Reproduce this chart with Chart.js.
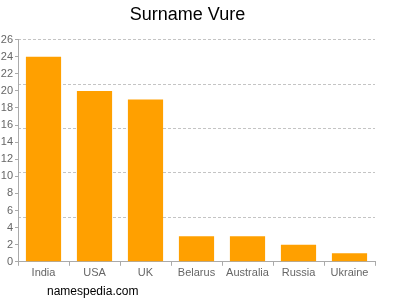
<!DOCTYPE html>
<html>
<head>
<meta charset="utf-8">
<script src="https://cdn.jsdelivr.net/npm/chart.js@4"></script>
<style>
  html, body { margin: 0; padding: 0; background: #fff; }
  #wrap { position: relative; width: 400px; height: 300px; }
  #credit { position: absolute; left: 47px; top: 284px; font: 12px "Liberation Sans", Arial, sans-serif; color: #000; }
</style>
</head>
<body>
<div id="wrap">
  <canvas id="chart" width="400" height="300"></canvas>
  <div id="credit">namespedia.com</div>
</div>
<script>
const countries = ['India', 'USA', 'UK', 'Belarus', 'Australia', 'Russia', 'Ukraine'];
const counts = [24, 20, 19, 3, 3, 2, 1];
const gridLevels = [0, 5.2, 10.4, 15.6, 20.8, 26];

const labelFont = { family: '"Liberation Sans", Arial, sans-serif', size: 11 };

new Chart(document.getElementById('chart'), {
  type: 'bar',
  data: {
    labels: countries,
    datasets: [{
      data: counts,
      backgroundColor: '#ffa000',
      barPercentage: 0.69,
      categoryPercentage: 1
    }]
  },
  options: {
    responsive: false,
    animation: false,
    layout: { padding: { left: 0, right: 25, top: 0, bottom: 19 } },
    plugins: {
      legend: { display: false },
      tooltip: { enabled: false },
      title: {
        display: true,
        text: 'Surname Vure',
        color: '#000',
        font: { family: '"Liberation Sans", Arial, sans-serif', size: 18, weight: 'normal' },
        padding: { top: 4, bottom: 14 }
      }
    },
    scales: {
      x: {
        grid: { display: true, drawOnChartArea: false, drawTicks: true, tickLength: 4, color: '#aaa' },
        border: { display: true, color: '#aaa' },
        ticks: { color: '#666', font: labelFont, padding: 1, maxRotation: 0 }
      },
      // dashed grid at fifths of the range, separate from the labelled ticks
      y2: {
        position: 'left',
        min: 0,
        max: 26,
        afterBuildTicks: s => { s.ticks = gridLevels.map(v => ({ value: v })); },
        afterFit: s => { s.width = 0; },
        ticks: { display: false },
        grid: {
          drawTicks: false,
          color: ctx => ctx.tick && ctx.tick.value === 0 ? 'rgba(0,0,0,0)' : '#c4c4c4'
        },
        border: { display: false, dash: [3, 2] }
      },
      y: {
        position: 'left',
        min: 0,
        max: 26,
        afterFit: s => { s.width = 18; },
        ticks: { stepSize: 2, color: '#666', font: labelFont, padding: 2 },
        grid: { drawOnChartArea: false, drawTicks: true, tickLength: 3, color: '#aaa' },
        border: { display: true, color: '#aaa' }
      }
    }
  }
});
</script>
</body>
</html>
